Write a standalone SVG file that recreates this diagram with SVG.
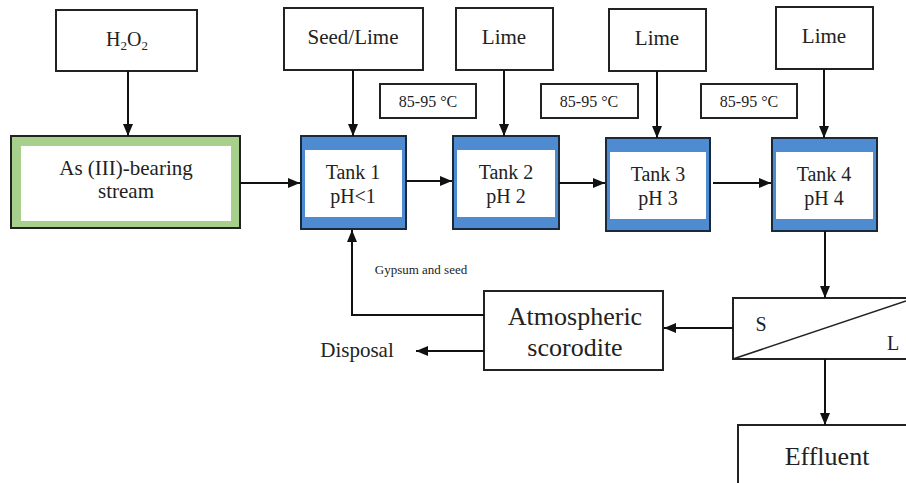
<svg xmlns="http://www.w3.org/2000/svg" width="906" height="483" viewBox="0 0 906 483" font-family="'Liberation Serif','Times New Roman','DejaVu Serif',serif">
<style>
text{font-family:'Liberation Serif','Times New Roman','DejaVu Serif',serif;fill:#222;text-anchor:middle}
.box{fill:#fff;stroke:#222;stroke-width:2}
.tank{fill:#4f8bd0;stroke:#1a2a3a;stroke-width:2}
.in{fill:#fff}
.ln{fill:none;stroke:#111;stroke-width:2}
.t20{font-size:20px}
.t21{font-size:21px}
.t16{font-size:16px}
.t26{font-size:26px}
</style>
<defs>
<marker id="ah" viewBox="0 0 12 10" refX="12" refY="5" markerWidth="12" markerHeight="10" markerUnits="userSpaceOnUse" orient="auto">
<path d="M0,0 L12,5 L0,10 Z" fill="#111"/>
</marker>
</defs>
<g id="h2o2"><rect class="box" x="56" y="10" width="141" height="61"/><text class="t20" x="127" y="46">H<tspan font-size="13" dy="4">2</tspan><tspan dy="-4">O</tspan><tspan font-size="13" dy="4">2</tspan></text></g>
<g id="stream"><rect x="11" y="136" width="229" height="92" fill="#a8d08d" stroke="#222" stroke-width="2"/><rect class="in" x="21" y="146" width="210" height="75"/><text class="t21" x="126" y="175">As (III)-bearing</text><text class="t21" x="126" y="198">stream</text></g>
<g id="seedlime"><rect class="box" x="284" y="8" width="139" height="62"/><text class="t21" x="353" y="44">Seed/Lime</text></g>
<g id="lime2"><rect class="box" x="456" y="8" width="97" height="62"/><text class="t21" x="504" y="44">Lime</text></g>
<g id="lime3"><rect class="box" x="609" y="9" width="97" height="62"/><text class="t21" x="657" y="45">Lime</text></g>
<g id="lime4"><rect class="box" x="776" y="7" width="97" height="62"/><text class="t21" x="824" y="43">Lime</text></g>
<g id="temp1"><rect class="box" x="380" y="84" width="96" height="34"/><text class="t16" x="428" y="107">85-95 °C</text></g>
<g id="temp2"><rect class="box" x="541" y="84" width="97" height="34"/><text class="t16" x="589" y="107">85-95 °C</text></g>
<g id="temp3"><rect class="box" x="701" y="84" width="96" height="34"/><text class="t16" x="749" y="107">85-95 °C</text></g>
<g id="tank1"><rect class="tank" x="301" y="136" width="105" height="93"/><rect class="in" x="305" y="150" width="97" height="67"/><text class="t20" x="353" y="179">Tank 1</text><text class="t20" x="353" y="203">pH&lt;1</text></g>
<g id="tank2"><rect class="tank" x="453" y="136" width="106" height="93"/><rect class="in" x="457" y="150" width="98" height="67"/><text class="t20" x="506" y="179">Tank 2</text><text class="t20" x="506" y="203">pH 2</text></g>
<g id="tank3"><rect class="tank" x="606" y="138" width="104" height="93"/><rect class="in" x="610" y="152" width="96" height="67"/><text class="t20" x="658" y="181">Tank 3</text><text class="t20" x="658" y="205">pH 3</text></g>
<g id="tank4"><rect class="tank" x="772" y="138" width="105" height="93"/><rect class="in" x="776" y="152" width="97" height="67"/><text class="t20" x="824" y="181">Tank 4</text><text class="t20" x="824" y="205">pH 4</text></g>
<g id="separator"><rect class="box" x="733" y="298" width="190" height="61"/><line x1="733" y1="359" x2="906" y2="301" stroke="#222" stroke-width="1.5"/><text class="t20" x="761" y="331">S</text><text class="t20" x="893" y="350">L</text></g>
<g id="scorodite"><rect class="box" x="484" y="291" width="179" height="79"/><text class="t26" x="575" y="325">Atmospheric</text><text class="t26" x="575" y="356">scorodite</text></g>
<g id="effluent"><rect class="box" x="738" y="425" width="190" height="80"/><text class="t26" x="827" y="465">Effluent</text></g>
<g id="disposal"><text class="t21" x="357" y="357">Disposal</text></g>
<g id="connectors">
<line class="ln" x1="128" y1="71" x2="128" y2="136" marker-end="url(#ah)"/>
<line class="ln" x1="240" y1="183" x2="300" y2="183" marker-end="url(#ah)"/>
<line class="ln" x1="353" y1="70" x2="353" y2="136" marker-end="url(#ah)"/>
<line class="ln" x1="504" y1="70" x2="504" y2="136" marker-end="url(#ah)"/>
<line class="ln" x1="657" y1="71" x2="657" y2="138" marker-end="url(#ah)"/>
<line class="ln" x1="824" y1="69" x2="824" y2="138" marker-end="url(#ah)"/>
<line class="ln" x1="406" y1="181" x2="452" y2="181" marker-end="url(#ah)"/>
<line class="ln" x1="559" y1="183" x2="605" y2="183" marker-end="url(#ah)"/>
<line class="ln" x1="713" y1="183" x2="771" y2="183" marker-end="url(#ah)"/>
<line class="ln" x1="825" y1="231" x2="825" y2="298" marker-end="url(#ah)"/>
<line class="ln" x1="733" y1="328" x2="664" y2="328" marker-end="url(#ah)"/>
<line class="ln" x1="825" y1="359" x2="825" y2="425" marker-end="url(#ah)"/>
<polyline class="ln" points="484,315 352,315 352,230" marker-end="url(#ah)"/>
<line class="ln" x1="484" y1="351" x2="416" y2="351" marker-end="url(#ah)"/>
<text x="421" y="274" font-size="13">Gypsum and seed</text>
</g>
</svg>
